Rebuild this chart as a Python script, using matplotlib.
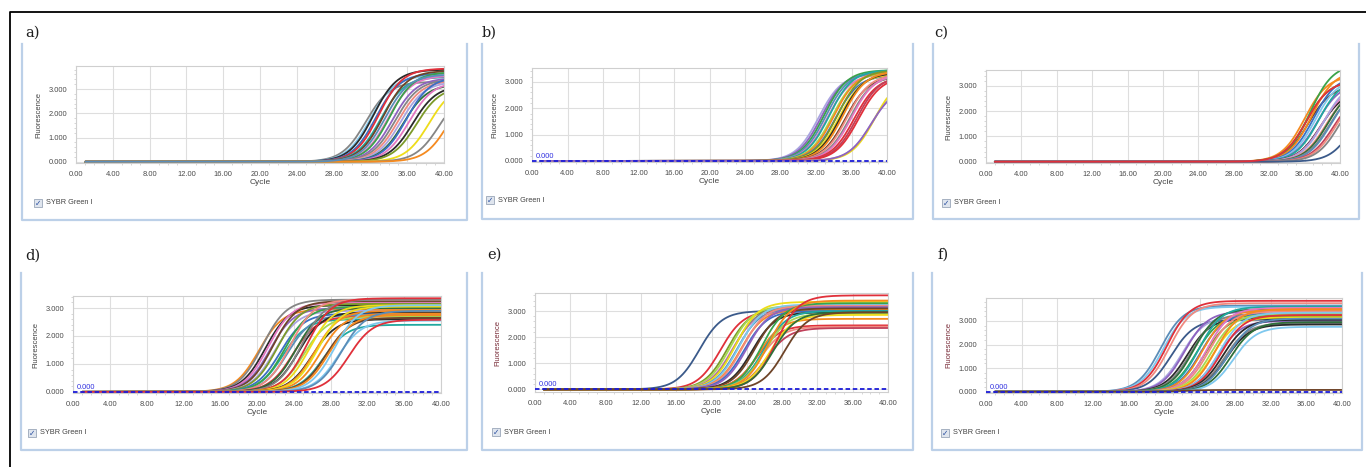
import numpy as np
import matplotlib
matplotlib.use("Agg")
import matplotlib.pyplot as plt
from matplotlib.lines import Line2D
from matplotlib.patches import Rectangle
from matplotlib.ticker import MultipleLocator

W, H = 1366, 467

# ---------------------------------------------------------------------------
# Curve data: Ct (cycle at half plateau), plateau, colour
# ---------------------------------------------------------------------------
CT_A = [31.5, 32.0, 32.3, 32.6, 32.9, 33.1, 33.4, 33.9, 34.1, 34.4, 34.7, 35.0,
        35.3, 35.6, 35.9, 36.2, 36.6, 37.0, 38.4, 39.5, 40.6, 33.6]
PLAT_A = [3.30, 3.55, 3.80, 3.65, 3.85, 3.50, 3.75, 3.55, 3.70, 3.45, 3.40, 3.35,
          3.30, 3.20, 3.50, 3.30, 3.15, 3.10, 3.20, 3.00, 3.30, 3.60]
COL_A = ["gray", "lblue", "black", "blue", "red", "teal", "brown", "pink", "green",
         "purple", "gray", "salmon", "lav", "dgreen", "blue", "pink", "black",
         "olive", "yellow", "gray", "orange", "steel"]

CT_B = [32.3, 32.6, 32.9, 33.1, 33.3, 33.5, 33.8, 34.0, 34.2, 34.4, 34.6, 34.8,
        35.0, 35.3, 35.5, 35.8, 36.0, 36.3, 36.6, 36.8, 38.3, 38.6, 38.2]
PLAT_B = [3.30, 3.35, 3.45, 3.40, 3.30, 3.45, 3.35, 3.40, 3.25, 3.45, 3.30, 3.35,
          3.40, 3.20, 3.30, 3.25, 3.30, 3.20, 3.25, 3.20, 2.90, 3.20, 2.80]
COL_B = ["lav", "purple", "green", "steel", "pink", "teal", "lime", "orange", "blue",
         "olive", "yellow", "black", "orange", "brown", "salmon", "gray", "pink",
         "red", "maroon", "red", "lav", "yellow", "purple"]

CT_C = [36.0, 36.2, 36.4, 36.6, 36.8, 37.0, 37.2, 37.4, 37.6, 37.8, 38.0, 38.2,
        38.4, 38.6, 38.8, 39.0, 39.3, 39.6, 40.0, 41.7, 36.2]
PLAT_C = [3.40, 3.20, 3.00, 3.85, 3.60, 3.40, 3.30, 3.10, 3.30, 2.80, 3.00, 3.20,
          2.90, 3.00, 2.90, 3.00, 2.80, 2.90, 3.00, 3.00, 3.20]
COL_C = ["orange", "olive", "brown", "green", "orange", "blue", "lblue", "purple",
         "teal", "black", "pink", "lav", "salmon", "dgreen", "gray", "steel",
         "maroon", "salmon", "gray", "navy", "red"]

CT_D = [20.2, 20.6, 20.9, 21.2, 21.4, 21.7, 21.9, 22.2, 22.5, 22.8, 23.0, 23.3,
        23.6, 23.9, 24.2, 24.5, 24.8, 25.1, 25.4, 25.7, 26.0, 26.3, 26.6, 26.9,
        27.2, 27.5, 27.8, 28.4, 28.8, 29.2, 30.0]
PLAT_D = [2.95, 3.30, 3.10, 3.20, 3.00, 3.25, 2.90, 3.15, 2.80, 2.60, 3.05, 2.75,
          3.30, 2.70, 3.00, 2.85, 3.30, 2.70, 3.35, 3.10, 2.60, 2.90, 3.05, 2.80,
          2.40, 2.65, 2.75, 3.10, 2.55, 2.90, 2.58]
COL_D = ["orange", "gray", "black", "pink", "purple", "brown", "lav", "olive",
         "blue", "teal", "green", "steel", "salmon", "red", "dgreen", "black",
         "gray", "lime", "red", "yellow", "black", "orange", "yellow", "orange",
         "teal", "brown", "orange", "lblue", "lblue", "steel", "red"]

CT_E = [18.6, 21.0, 21.8, 22.1, 22.3, 22.5, 22.7, 22.9, 23.1, 23.3, 23.5, 23.7,
        24.0, 24.6, 24.9, 25.1, 25.3, 25.5, 25.7, 25.9, 26.0, 26.2, 26.4, 26.6,
        27.3, 27.0, 28.3]
PLAT_E = [3.00, 3.00, 3.10, 3.20, 3.00, 3.15, 3.35, 3.10, 3.25, 3.05, 3.20, 3.00,
          3.15, 2.95, 3.10, 2.45, 2.70, 2.40, 3.30, 3.00, 2.90, 2.35, 3.40, 2.85,
          3.60, 2.95, 2.95]
COL_E = ["navy", "red", "olive", "lime", "pink", "gray", "yellow", "steel", "lblue",
         "orange", "salmon", "blue", "purple", "black", "brown", "red", "orange",
         "salmon", "green", "teal", "lime", "maroon", "orange", "yellow", "red",
         "dgreen", "brown"]

CT_F = [19.6, 19.9, 20.3, 20.6, 20.8, 22.0, 22.3, 22.6, 23.0, 23.3, 23.6, 23.9,
        24.1, 24.3, 24.6, 24.8, 25.0, 25.3, 25.5, 25.8, 26.0, 26.2, 26.4, 26.6,
        26.8, 27.0, 27.2, 27.5, 27.8, 22.0]
PLAT_F = [3.65, 3.60, 3.85, 3.75, 3.05, 3.20, 3.40, 3.10, 3.30, 3.50, 3.25, 3.60,
          3.30, 3.45, 3.20, 3.55, 3.40, 3.30, 3.15, 3.50, 3.00, 3.35, 3.25, 3.05,
          2.90, 2.85, 3.10, 2.95, 2.75, 0.08]
COL_F = ["steel", "lblue", "red", "salmon", "navy", "lav", "purple", "black", "gray",
         "dgreen", "green", "teal", "blue", "orange", "olive", "pink", "salmon",
         "lime", "yellow", "orange", "purple", "lblue", "red", "black", "gray",
         "black", "steel", "dgreen", "lblue", "brown"]

PALETTE = {
    "gray": "#858585", "black": "#2a2a2a", "red": "#e0303a", "blue": "#3a6fc4",
    "lblue": "#7ec8ee", "green": "#3aa34a", "orange": "#f58a1f", "yellow": "#eedc1a",
    "purple": "#8e63c0", "brown": "#6e4428", "pink": "#e377c2", "teal": "#20a9a0",
    "olive": "#7c9a2a", "navy": "#3b5a8a", "salmon": "#f08a80", "lime": "#a6d854",
    "steel": "#5b8db8", "dgreen": "#2f6f3a", "lav": "#a9a4e0", "maroon": "#c0405a",
}

CYCLES = np.arange(1, 40.01, 0.25)
SLOPE = 1.3

# panel geometry in pixels: axes (x0, x1, top, bottom), frame (l, r, t, b), label pos
PANELS = [
    dict(tag="a)", ct=CT_A, plat=PLAT_A, col=COL_A, ylim=(-0.05, 3.95), thr=False,
         ax=(76, 444, 66, 163), frame=(22, 467, 44, 220), lab=(25, 33), box=(38, 203),
         ycol="#444444"),
    dict(tag="b)", ct=CT_B, plat=PLAT_B, col=COL_B, ylim=(-0.04, 3.53), thr=True,
         ax=(532, 887, 68, 162), frame=(482, 913, 44, 219), lab=(482, 33), box=(490, 200),
         ycol="#444444"),
    dict(tag="c)", ct=CT_C, plat=PLAT_C, col=COL_C, ylim=(-0.05, 3.62), thr=False,
         ax=(986, 1340, 70, 163), frame=(933, 1359, 44, 219), lab=(934, 33), box=(946, 203),
         ycol="#444444"),
    dict(tag="d)", ct=CT_D, plat=PLAT_D, col=COL_D, ylim=(-0.04, 3.43), thr=True,
         ax=(73, 441, 296, 393), frame=(21, 467, 273, 450), lab=(25, 256), box=(32, 433),
         ycol="#444444"),
    dict(tag="e)", ct=CT_E, plat=PLAT_E, col=COL_E, ylim=(-0.1, 3.69), thr=True,
         ax=(535, 888, 293, 392), frame=(482, 913, 273, 450), lab=(487, 255), box=(496, 432),
         ycol="#7a2e3a"),
    dict(tag="f)", ct=CT_F, plat=PLAT_F, col=COL_F, ylim=(-0.05, 3.97), thr=True,
         ax=(986, 1342, 298, 393), frame=(932, 1362, 273, 450), lab=(937, 255), box=(945, 433),
         ycol="#7a2e3a"),
]

FRAME_COL = "#bcd0e8"
TICK_FONT = "Liberation Sans"


def fx(x):
    return x / W


def fy(y):
    return 1 - y / H


def draw_panel(fig, p):
    x0, x1, top, bot = p["ax"]
    ax = fig.add_axes([fx(x0), fy(bot), (x1 - x0) / W, (bot - top) / H])
    for ct, plat, c in zip(p["ct"], p["plat"], p["col"]):
        f = plat / (1 + np.exp(-(CYCLES - ct) / SLOPE))
        ax.plot(CYCLES, f, color=PALETTE[c], lw=1.3, solid_capstyle="round")
    if p["thr"]:
        ax.axhline(0, color="#1c1cd8", lw=1.3, ls=(0, (2.5, 1.5)), zorder=5)
        ax.text(0.4, 0.04, "0.000", color="#3030e0", fontsize=5.3,
                family=TICK_FONT, va="bottom", ha="left", zorder=6)

    ax.set_xlim(0, 40)
    ax.set_ylim(*p["ylim"])
    ax.set_xticks(np.arange(0, 41, 4))
    ax.set_xticklabels([f"{v:.2f}" for v in np.arange(0, 41, 4)])
    ax.set_yticks([0, 1, 2, 3])
    ax.set_yticklabels(["0.000", "1.000", "2.000", "3.000"])
    ax.xaxis.set_minor_locator(MultipleLocator(1))
    ax.yaxis.set_minor_locator(MultipleLocator(0.2))
    ax.tick_params(which="major", length=0, labelsize=5.4, labelcolor="#4a4a4a")
    ax.tick_params(axis="x", pad=5.5)
    ax.tick_params(axis="y", pad=6.5)
    ax.tick_params(which="minor", length=1.5, width=0.5, color="#c8c8c8")
    for lab in ax.get_xticklabels() + ax.get_yticklabels():
        lab.set_family(TICK_FONT)
    ax.grid(True, which="major", color="#dedede", lw=0.8)
    ax.set_axisbelow(True)
    for s in ax.spines.values():
        s.set_color("#cfcfcf")
        s.set_linewidth(0.8)
    ax.set_xlabel("Cycle", fontsize=6, color="#444444", labelpad=1, family=TICK_FONT)
    ax.set_ylabel("Fluorescence", fontsize=5.5, color=p["ycol"], labelpad=4, family=TICK_FONT)

    # light-blue group frame (left, bottom, right)
    l, r, t, b = p["frame"]
    fig.add_artist(Line2D([fx(l), fx(l), fx(r), fx(r)], [fy(t), fy(b), fy(b), fy(t)],
                          transform=fig.transFigure, color=FRAME_COL, lw=1.6))
    # panel tag
    fig.text(fx(p["lab"][0]), fy(p["lab"][1]), p["tag"], fontsize=10.5,
             family="DejaVu Serif", va="center", ha="left", color="#1e1e1e")
    # checkbox + legend text
    bx, by = p["box"]
    fig.add_artist(Rectangle((fx(bx - 4), fy(by + 4)), 8 / W, 8 / H,
                             transform=fig.transFigure, facecolor="#dfe5ee",
                             edgecolor="#9aa6b8", lw=0.6))
    fig.text(fx(bx), fy(by), "\u2713", fontsize=5.5, color="#2a4fa0",
             ha="center", va="center", family="DejaVu Sans")
    fig.text(fx(bx + 8), fy(by), "SYBR Green I", fontsize=5.3, color="#444444",
             ha="left", va="center", family=TICK_FONT)


def main():
    fig = plt.figure(figsize=(W / 100, H / 100), dpi=100)
    fig.patch.set_facecolor("white")
    # outer black border (top and left)
    fig.add_artist(Line2D([fx(10), fx(10), fx(W)], [fy(H), fy(12), fy(12)],
                          transform=fig.transFigure, color="black", lw=1.3))
    for p in PANELS:
        draw_panel(fig, p)
    fig.savefig("out.png", dpi=100)
    plt.close(fig)


if __name__ == "__main__":
    main()
